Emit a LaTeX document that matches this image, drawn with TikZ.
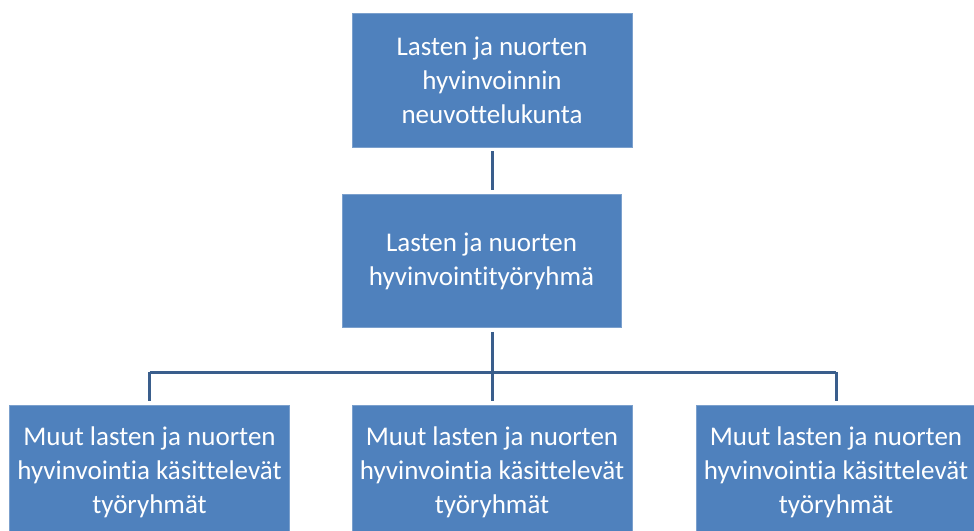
\documentclass[tikz,border=0pt]{standalone}
\usepackage{fontspec}
\setmainfont[Ligatures=NoCommon]{Carlito}

\definecolor{boxBlue}{RGB}{79,129,189}
\definecolor{lineBlue}{RGB}{58,94,140}

\def \boxWidth {280pt}
\def \boxHeight {134pt}
\def \gap {4pt}

\begin{document}
\begin{tikzpicture}[x=1pt,y=-1pt,
    orgbox/.style={fill=boxBlue, draw=boxBlue!75!white, line width=0.8pt,
      minimum width=\boxWidth, minimum height=\boxHeight, inner sep=0pt,
      text=white, align=center, font=\fontsize{27}{34}\selectfont},
    orgline/.style={draw=lineBlue, line width=3pt}]
   \useasboundingbox (0,0) rectangle (974,530);
   \clip (0,0) rectangle (974,530);
   % boxes
   \node[orgbox] (council) at (492,80) {Lasten ja nuorten\\hyvinvoinnin\\neuvottelukunta};
   \node[orgbox, minimum width=279pt, minimum height=133pt] (group) at (481.5,261) {Lasten ja nuorten\\hyvinvointityöryhmä};
   \node[orgbox] (otherA) at (149.5,472) {Muut lasten ja nuorten\\hyvinvointia käsittelevät\\työryhmät};
   \node[orgbox] (otherB) at (492,472) {Muut lasten ja nuorten\\hyvinvointia käsittelevät\\työryhmät};
   \node[orgbox] (otherC) at (836,472) {Muut lasten ja nuorten\\hyvinvointia käsittelevät\\työryhmät};
   \coordinate (bus) at (492,372);
   % connectors
   \draw[orgline, shorten <=\gap, shorten >=\gap] (council.south) -- (council.south |- group.north);
   \draw[orgline, shorten <=\gap] (group.south -| bus) -- (bus);
   \draw[orgline] (otherA.north |- bus) -- (otherC.north |- bus);
   \draw[orgline, shorten >=\gap] (otherA.north |- bus) -- (otherA.north);
   \draw[orgline, shorten >=\gap] (bus) -- (otherB.north);
   \draw[orgline, shorten >=\gap] (otherC.north |- bus) -- (otherC.north);
\end{tikzpicture}
\end{document}
